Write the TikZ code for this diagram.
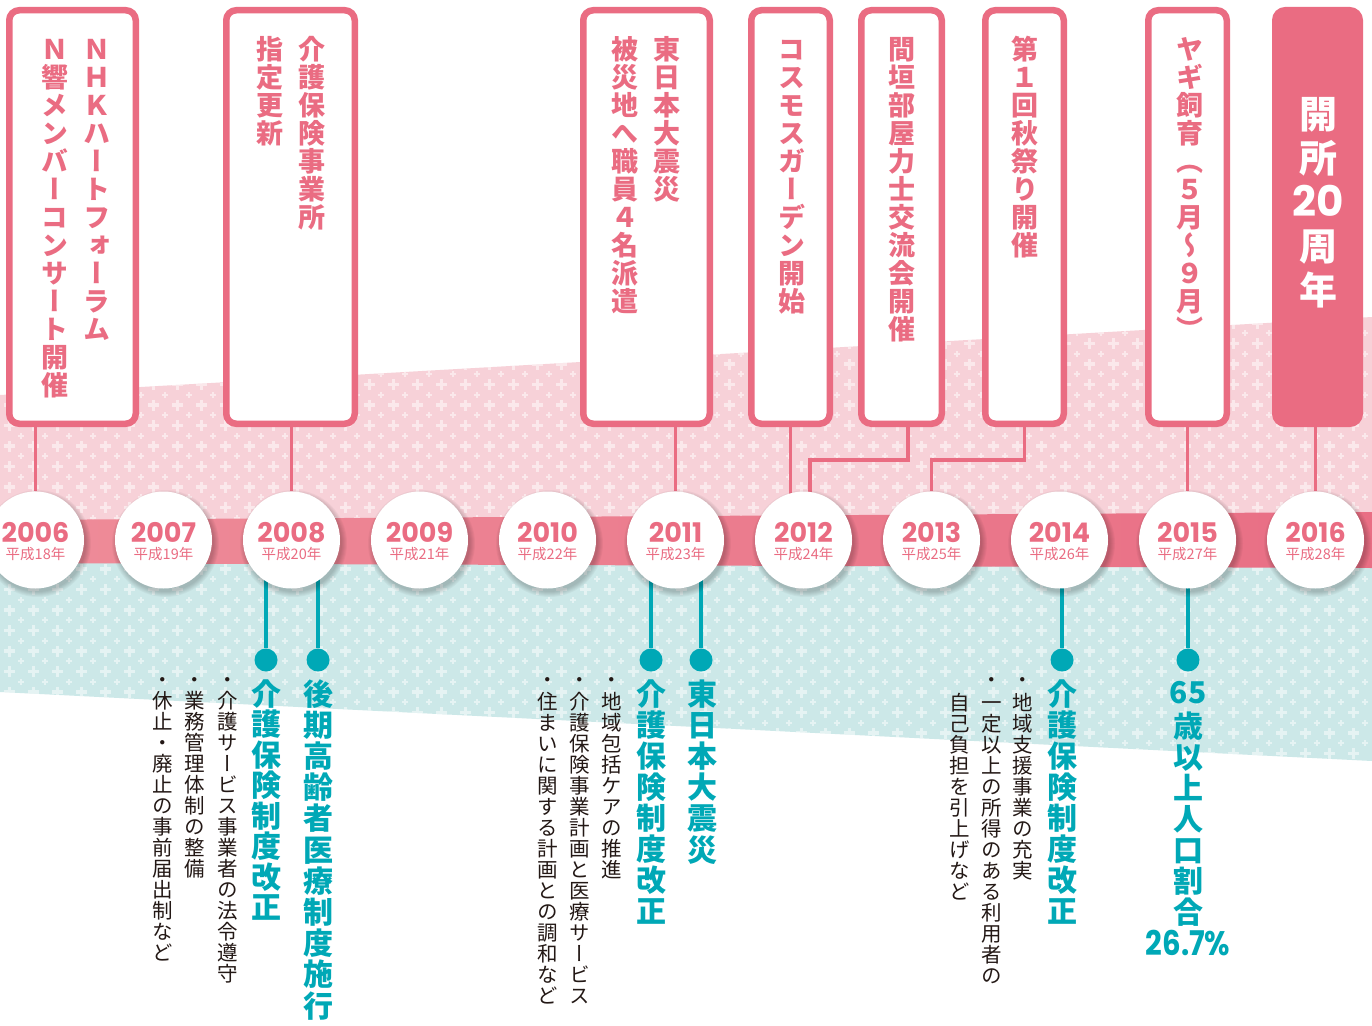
\documentclass[tikz,border=0pt]{standalone}
\usepackage{fontspec}
\usepackage{graphicx}
\newfontfamily\jpv[RawFeature={+vert}]{Noto Sans CJK JP}
\newfontfamily\jph{Noto Sans CJK JP}
\newfontfamily\pop{Poppins}
\usetikzlibrary{calc}
\pgfdeclarelayer{back}
\pgfdeclarelayer{mid}
\pgfsetlayers{back,mid,main}
\definecolor{pk}{RGB}{234,108,130}
\definecolor{pkband}{RGB}{247,209,216}
\definecolor{stripeL}{RGB}{238,140,153}
\definecolor{stripeR}{RGB}{233,110,132}
\definecolor{tlband}{RGB}{204,232,232}
\definecolor{tl}{RGB}{0,168,182}
\definecolor{ink}{RGB}{35,24,21}
\makeatletter
\newcommand\vst[2]{\vbox{\baselineskip=#1\relax\lineskiplimit=-\maxdimen\lineskip=0pt
  \@tfor\vst@c:=#2\do{\hbox to 1em{\hss\vrule height .88em depth .12em width 0pt\vst@c\hss}}}}
\newcommand\yrlabel[2]{\vbox{\baselineskip=17.5pt\lineskiplimit=-\maxdimen\lineskip=0pt
  \hbox to 0pt{\hss\pop\bfseries\fontsize{27}{27}\selectfont #1\hss}
  \hbox to 0pt{\hss\jph\fontsize{14.5}{15}\selectfont 平成#2年\hss}}}
\makeatother
\tikzset{
 pbox/.style={draw=pk, line width=6.5pt, fill=white, rounded corners=10pt, minimum height=413.5pt, inner sep=0pt},
 bt/.style={anchor=north, inner sep=0pt, text=pk, font=\jpv\bfseries\fontsize{27}{28}\selectfont},
 yc/.style={circle, fill=white, minimum size=97pt, inner sep=0pt},
 yrtxt/.style={text=pk, anchor=north, inner sep=0pt},
 pline/.style={draw=pk, line width=3.5pt},
 tline/.style={draw=tl, line width=3.2pt},
 tdot/.style={circle, fill=tl, minimum size=23pt, inner sep=0pt},
 thead/.style={anchor=north, inner sep=0pt, text=tl, font=\jpv\bfseries\fontsize{30}{31}\selectfont},
 stxt/.style={anchor=north, inner sep=0pt, text=ink, font=\jpv\fontsize{20.5}{21}\selectfont},
 bul/.style={inner sep=0pt, text=ink, font=\jph\fontsize{20.5}{21}\selectfont},
}
\begin{document}
\begin{tikzpicture}[x=1pt,y=-1pt]
\useasboundingbox (0,0) rectangle (1372,1025);
\begin{pgfonlayer}{back}
\fill[white] (0,0) rectangle (1372,1025);
\fill[pkband] (0,395) -- (1372,317) -- (1372,541) -- (0,541) -- cycle;
\fill[tlband] (0,540) -- (1372,540) -- (1372,761) -- (0,692) -- cycle;
\begin{scope}
\clip (0,395) -- (1372,317) -- (1372,761) -- (0,692) -- cycle;
\foreach \r in {0,...,23} {
  \pgfmathsetmacro\yy{302.5+20.5*\r}
  \draw[white, opacity=.5, line width=3.5pt] \foreach \c in {9.3,33.3,...,1390} {(\c-5.5,\yy) -- (\c+5.5,\yy) (\c,\yy-5.5) -- (\c,\yy+5.5)};
  \draw[white, opacity=.5, line width=2pt] \foreach \c in {21.3,45.3,...,1390} {(\c-3,\yy+10.25) -- (\c+3,\yy+10.25) (\c,\yy+7.25) -- (\c,\yy+13.25)};
}
\end{scope}
\shade[left color=stripeL, right color=stripeR] (0,520) -- (1372,512) -- (1372,568) -- (0,563) -- cycle;
\end{pgfonlayer}

% year circles
\foreach \i/\yr/\hsn in {0/2006/18,1/2007/19,2/2008/20,3/2009/21,4/2010/22,5/2011/23,6/2012/24,7/2013/25,8/2014/26,9/2015/27,10/2016/28}{
  \pgfmathsetmacro\cx{35.5+128*\i}
  \foreach \k in {0,...,5} \fill[black,opacity=.035] (\cx+2,543.5) circle[radius=48.5+\k];
  \node[yc] (c\yr) at (\cx,540) {};
  \node[yrtxt] (l\yr) at (\cx,521.7) {\yrlabel{\yr}{\hsn}};
}

% event boxes
\node[pbox, minimum width=126.5pt] (b1) at (72.5,217) {};
\node[pbox, minimum width=128.5pt] (b2) at (290.5,217) {};
\node[pbox, minimum width=126.5pt] (b3) at (646.5,217) {};
\node[pbox, minimum width=78.5pt] (b4) at (790.5,217) {};
\node[pbox, minimum width=80.5pt] (b5) at (901.5,217) {};
\node[pbox, minimum width=78.5pt] (b6) at (1024.5,217) {};
\node[pbox, minimum width=78.5pt] (b7) at (1187.5,217) {};
\node[pbox, fill=pk, minimum width=84.5pt] (b8) at (1317.5,217) {};

\node[bt] (t1a) at (97,35.5) {\vst{28pt}{ＮＨＫハートフォーラム}};
\node[bt] (t1b) at (55,35.5) {\vst{28pt}{Ｎ響メンバーコンサート開催}};
\node[bt] (t2a) at (312,35.5) {\vst{28pt}{介護保険事業所}};
\node[bt] (t2b) at (270,35.5) {\vst{28pt}{指定更新}};
\node[bt] (t3a) at (667,35.5) {\vst{28pt}{東日本大震災}};
\node[bt] (t3b) at (625,35.5) {\vst{28pt}{被災地へ職員４名派遣}};
\node[bt] (t4) at (792,35.5) {\vst{28pt}{コスモスガーデン開始}};
\node[bt] (t5) at (902,35.5) {\vst{28pt}{間垣部屋力士交流会開催}};
\node[bt] (t6) at (1025,35.5) {\vst{28pt}{第１回秋祭り開催}};
\node[bt] (t7) at (1190,35.5) {\vst{28pt}{ヤギ飼育（５月～９月）}};
\node[bt, text=white, font=\jpv\bfseries\fontsize{38}{44}\selectfont] (t8) at (1318,95) {\vst{44pt}{開所{\pop\bfseries\fontsize{42}{42}\selectfont 20}周年}};

% teal dots and headings
\node[tdot] (d1) at (266,660) {};
\node[tdot] (d2) at (318,660) {};
\node[tdot] (d3) at (651,660) {};
\node[tdot] (d4) at (701,660) {};
\node[tdot] (d5) at (1062,660) {};
\node[tdot] (d6) at (1188,660) {};
\node[thead] (h1) at (266,678.5) {\vst{30.5pt}{介護保険制度改正}};
\node[thead] (h2) at (318,678.5) {\vst{31.2pt}{後期高齢者医療制度施行}};
\node[thead] (h3) at (651,678.5) {\vst{31pt}{介護保険制度改正}};
\node[thead] (h4) at (702,678.5) {\vst{31.2pt}{東日本大震災}};
\node[thead] (h5) at (1062,678.5) {\vst{31pt}{介護保険制度改正}};
\node[thead] (h6) at (1188,680) {\vst{31pt}{{\raisebox{3pt}{65}}歳以上人口割合}};
\node[inner sep=0pt, text=tl, font=\pop\bfseries\fontsize{34}{34}\selectfont] (pct) at (1188,942.5) {\scalebox{0.86}[1]{26.7\%}};

% sub texts
\node[bul] at (228,683) {・};
\node[stxt] (s1) at (228,690) {\vst{21pt}{介護サービス事業者の法令遵守}};
\node[bul] at (195,683) {・};
\node[stxt] (s2) at (195,690) {\vst{21pt}{業務管理体制の整備}};
\node[bul] at (163,683) {・};
\node[stxt] (s3) at (163,690) {\vst{21pt}{休止・廃止の事前届出制など}};
\node[bul] at (612,683) {・};
\node[stxt] (s4) at (612,691) {\vst{21pt}{地域包括ケアの推進}};
\node[bul] at (580,683) {・};
\node[stxt] (s5) at (580,691) {\vst{21pt}{介護保険事業計画と医療サービス}};
\node[bul] at (548,683) {・};
\node[stxt] (s6) at (548,691) {\vst{21pt}{住まいに関する計画との調和など}};
\node[bul] at (1023,683) {・};
\node[stxt] (s7) at (1023,692) {\vst{21pt}{地域支援事業の充実}};
\node[bul] at (992,683) {・};
\node[stxt] (s8) at (992,692) {\vst{21pt}{一定以上の所得のある利用者の}};
\node[stxt] (s9) at (960,692) {\vst{21pt}{自己負担を引上げなど}};

% connectors
\begin{pgfonlayer}{mid}
\coordinate (jog) at (0,460);
\draw[pline] (b1.south -| c2006) -- (c2006);
\draw[pline] (b2.south -| c2008) -- (c2008);
\draw[pline] (b3.south -| c2011) -- (c2011);
\draw[pline] (b4.south) -- (b4.south |- c2012);
\draw[pline] ($(b5.south)+(6.5,0)$) |- ($(c2012 |- jog)+(6.5,0)$) -- ($(c2012)+(6.5,0)$);
\draw[pline] (b6.south) |- (c2013 |- jog) -- (c2013);
\draw[pline] (b7.south -| c2015) -- (c2015);
\draw[pline] (b8.south -| c2016) -- (c2016);
\draw[tline] (d1) -- (d1 |- c2008);
\draw[tline] (d2) -- (d2 |- c2008);
\draw[tline] (d3) -- (d3 |- c2011);
\draw[tline] (d4) -- (d4 |- c2011);
\draw[tline] (d5) -- (d5 |- c2014);
\draw[tline] (d6) -- (d6 |- c2015);
\end{pgfonlayer}
\end{tikzpicture}
\end{document}
